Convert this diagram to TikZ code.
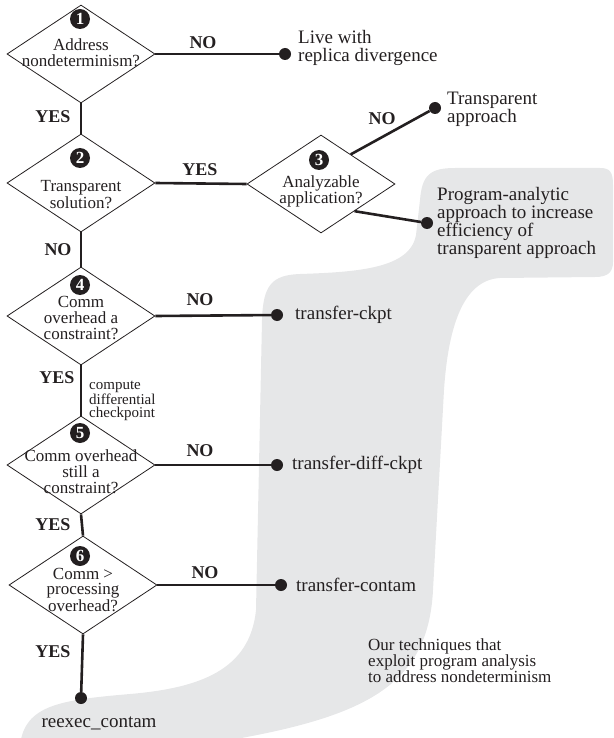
\documentclass[tikz,border=0pt]{standalone}
\usepackage{fontspec}
\setmainfont{Liberation Serif}
\usetikzlibrary{shapes.geometric,calc}
\definecolor{ink}{HTML}{231F20}
\definecolor{blob}{HTML}{E6E7E8}
\newcommand{\qlines}[2]{\raisebox{#1}[0pt][0pt]{\makebox[0pt]{\begin{tabular}{@{}c@{}}#2\end{tabular}}}}
\begin{document}
\begin{tikzpicture}[x=1pt, y=-1pt]
      \tikzstyle{decision}=[diamond, draw=ink, line width=0.8pt, minimum width=148pt, minimum height=98pt, inner sep=0pt, text=ink, font=\fontsize{17}{15}\selectfont]
      \tikzstyle{badge}=[circle, fill=ink, text=white, inner sep=0pt, minimum size=20pt, font=\fontsize{17}{17}\selectfont\bfseries]
      \tikzstyle{leaf}=[circle, fill=ink, inner sep=0pt, minimum size=12pt]
      \tikzstyle{answer}=[align=left, anchor=west, inner sep=0pt, text=ink, font=\fontsize{19}{18}\selectfont]
      \tikzstyle{choice}=[inner sep=0pt, text=ink, font=\fontsize{18}{18}\selectfont\bfseries]
      \tikzstyle{branch}=[draw=ink, line width=2.6pt]
      \useasboundingbox (0,0) rectangle (613,738);
      \clip (0,0) rectangle (613,738);

      \fill[blob] (20,745) .. controls (25,705) and (60,700) .. (130,694)
        .. controls (200,688) and (250,670) .. (256,610) -- (262,320)
        .. controls (263,285) and (272,275) .. (300,274)
        .. controls (360,272) and (410,268) .. (416,235) -- (420,200)
        .. controls (422,175) and (430,168) .. (455,168) -- (600,168)
        .. controls (610,168) and (613,172) .. (613,185) -- (613,262)
        .. controls (613,272) and (608,277) .. (595,277) -- (500,278)
        .. controls (462,280) and (448,330) .. (444,390) -- (433,590)
        .. controls (428,690) and (360,720) .. (200,745) -- cycle;

      \node[decision] (d1) at (81,54)  {\qlines{-5pt}{Address\\nondeterminism?}};
      \node[decision] (d2) at (81,183) {\qlines{-18pt}{Transparent\\solution?}};
      \node[decision] (d3) at (321,184) {\qlines{-12pt}{Analyzable\\application?}};
      \node[decision] (d4) at (81,316) {\qlines{-8pt}{Comm\\overhead a\\constraint?}};
      \node[decision] (d5) at (81,465) {\qlines{-13pt}{Comm overhead\\still a\\constraint?}};
      \node[decision] (d6) at (83,585) {\qlines{-11pt}{Comm >\\processing\\overhead?}};

      \node[badge] (b1) at (80,19)  {1};
      \node[badge] (b2) at (80,158) {2};
      \node[badge] (b3) at (319,160) {3};
      \node[badge] (b4) at (80,285) {4};
      \node[badge] (b5) at (80,433) {5};
      \node[badge] (b6) at (80,556) {6};

      \node[leaf] (e1) at (285,54)  {};
      \node[leaf] (e2) at (435,108) {};
      \node[leaf] (e3) at (427,223) {};
      \node[leaf] (e4) at (277,315) {};
      \node[leaf] (e5) at (277,465) {};
      \node[leaf] (e6) at (281,585) {};
      \node[leaf] (e7) at (81,698)  {};

      \node[answer] (a1) at (298,48)  {Live with\\replica divergence};
      \node[answer] (a2) at (447,109) {Transparent\\approach};
      \node[answer] (a3) at (437,223) {Program-analytic\\approach to increase\\efficiency of\\transparent approach};
      \node[answer] (a4) at (295,315) {transfer-ckpt};
      \node[answer] (a5) at (292,465) {transfer-diff-ckpt};
      \node[answer] (a6) at (296,585) {transfer-contam};
      \node[answer, anchor=center] (a7) at (99,723) {reexec\_contam};

      \node[choice] (n1) at (203,43)  {NO};
      \node[choice] (y1) at (53,117)  {YES};
      \node[choice] (y2) at (200,170) {YES};
      \node[choice] (n2) at (58,250)  {NO};
      \node[choice] (n3) at (382,119) {NO};
      \node[choice] (n4) at (200,300) {NO};
      \node[choice] (y4) at (57,378)  {YES};
      \node[choice] (n5) at (200,451) {NO};
      \node[choice] (y5) at (53,525)  {YES};
      \node[choice] (n6) at (205,573) {NO};
      \node[choice] (y6) at (53,652)  {YES};

      \node[answer, font=\fontsize{15}{13.5}\selectfont] (note) at (89,401) {compute\\differential\\checkpoint};
      \node[answer, font=\fontsize{17}{16}\selectfont] (ours) at (368,661) {Our techniques that\\exploit program analysis\\to address nondeterminism};

      \draw[branch] (d1.east) -- (e1);
      \draw[branch] (d1.south) -- (d2.north);
      \draw[branch] (d2.east) -- (d3.west);
      \draw[branch] (d2.south) -- (d4.north);
      \draw[branch] ($(d3.north)!0.4!(d3.east)$) -- (e2);
      \draw[branch] ($(d3.east)!0.55!(d3.south)$) -- (e3);
      \draw[branch] (d4.east) -- (e4);
      \draw[branch] (d4.south) -- (d5.north);
      \draw[branch] (d5.east) -- (e5);
      \draw[branch] (d5.south) -- (d6.north);
      \draw[branch] (d6.east) -- (e6);
      \draw[branch] (d6.south) -- (e7);
\end{tikzpicture}
\end{document}
